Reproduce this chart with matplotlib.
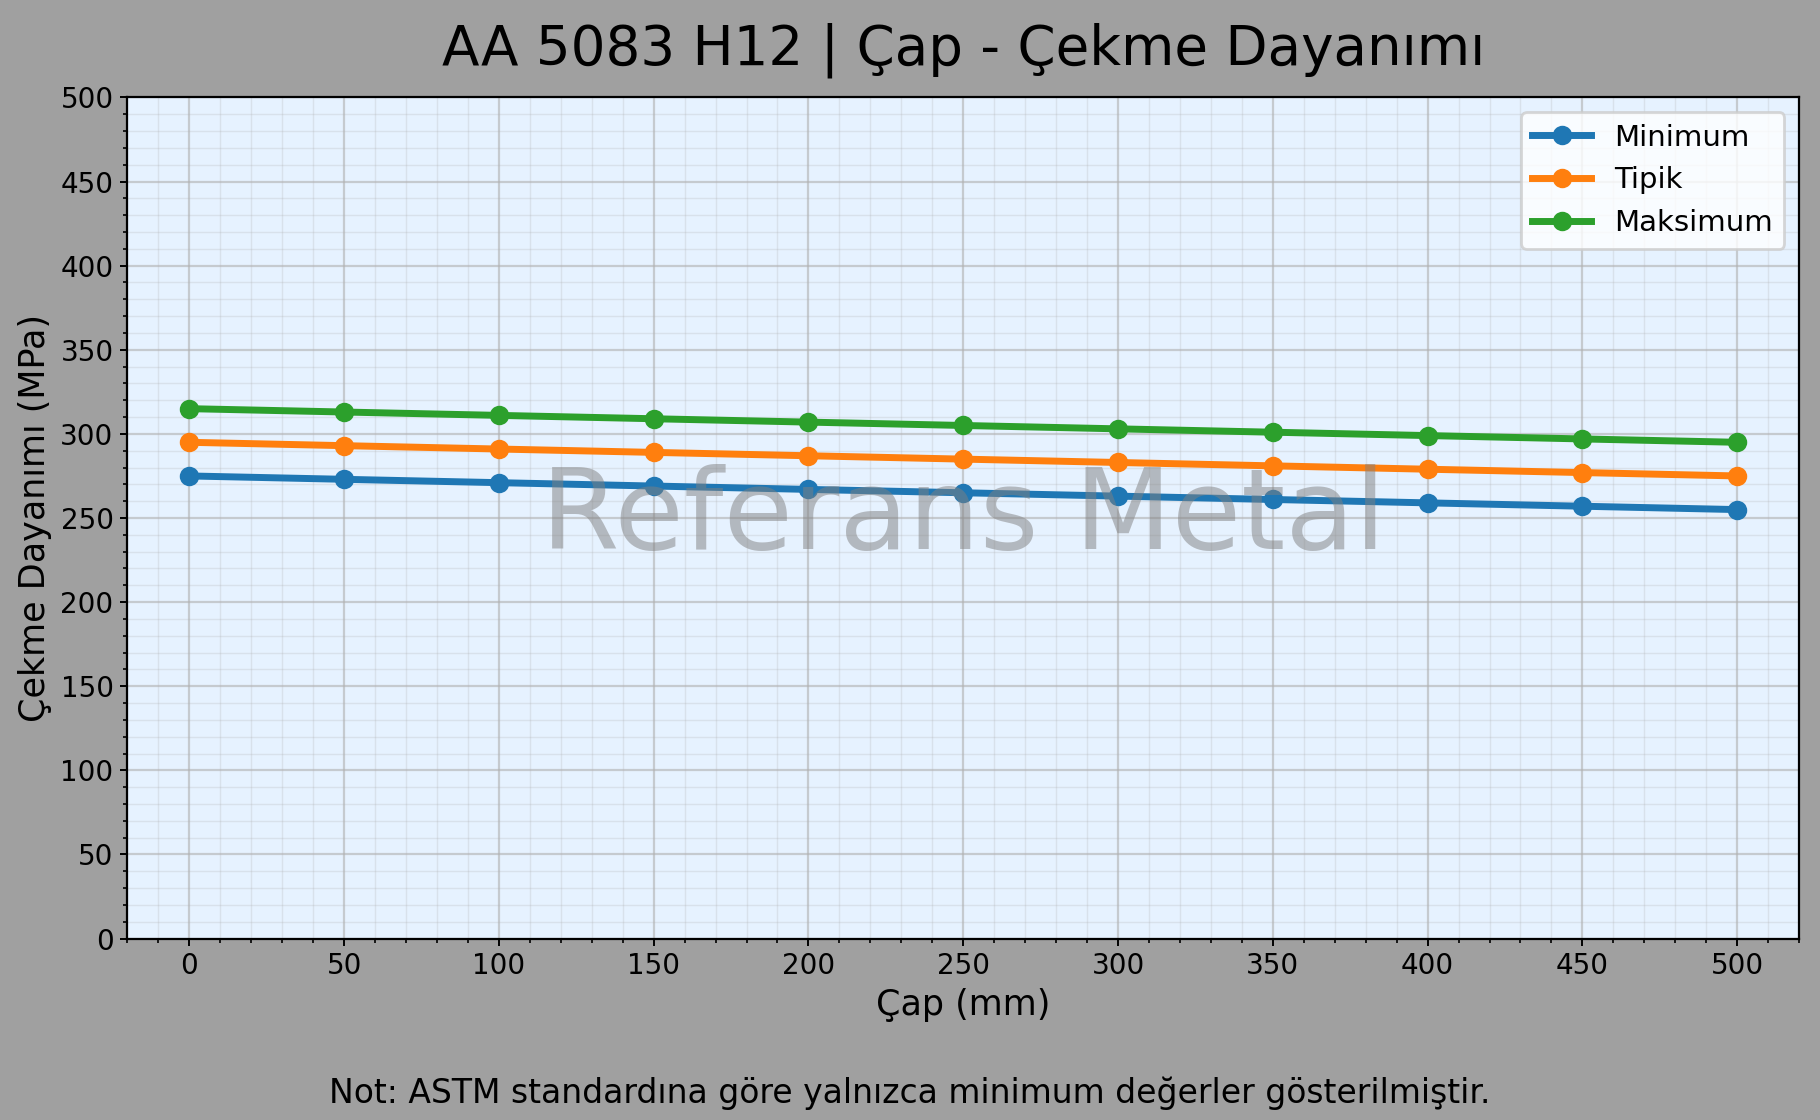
import numpy as np
import matplotlib
matplotlib.use("Agg")
import matplotlib.pyplot as plt
from matplotlib.ticker import MultipleLocator

# diameter (mm) and tensile strength values (MPa)
cap = [0, 50, 100, 150, 200, 250, 300, 350, 400, 450, 500]
minimum = [275, 273, 271, 269, 267, 265, 263, 261, 259, 257, 255]
tipik = [295, 293, 291, 289, 287, 285, 283, 281, 279, 277, 275]
maksimum = [315, 313, 311, 309, 307, 305, 303, 301, 299, 297, 295]

fig, ax = plt.subplots(figsize=(9.1, 5.6), dpi=200)
fig.patch.set_facecolor('#a0a0a0')
ax.set_facecolor('#e6f2ff')

ax.plot(cap, minimum, marker='o', lw=2.5, markersize=6, color='#1f77b4', label='Minimum')
ax.plot(cap, tipik, marker='o', lw=2.5, markersize=6, color='#ff7f0e', label='Tipik')
ax.plot(cap, maksimum, marker='o', lw=2.5, markersize=6, color='#2ca02c', label='Maksimum')

ax.set_xlim(-20, 520)
ax.set_ylim(0, 500)
ax.xaxis.set_major_locator(MultipleLocator(50))
ax.xaxis.set_minor_locator(MultipleLocator(10))
ax.yaxis.set_major_locator(MultipleLocator(50))
ax.yaxis.set_minor_locator(MultipleLocator(10))
ax.grid(which='major', color='#b0b0b0', alpha=0.6, lw=0.8)
ax.grid(which='minor', color='#b0b0b0', alpha=0.25, lw=0.5)
ax.tick_params(which='major', labelsize=10, length=2.5, pad=2.5, width=0.7)
ax.tick_params(which='minor', length=1.4, width=0.6)
for s in ax.spines.values():
    s.set_linewidth(0.8)

ax.set_xlabel('Çap (mm)', fontsize=12.6, labelpad=2.8)
ax.set_ylabel('Çekme Dayanımı (MPa)', fontsize=12.6, labelpad=2.8)
ax.set_title('AA 5083 H12 | Çap - Çekme Dayanımı', fontsize=19.7, pad=12)

ax.legend(loc='upper right', fontsize=10.5)

# watermark
ax.text(0.5, 0.5, 'Referans Metal', transform=ax.transAxes, fontsize=40.6,
        color='gray', alpha=0.5, ha='center', va='center', zorder=10)

fig.text(0.5, 0.024, 'Not: ASTM standardına göre yalnızca minimum değerler gösterilmiştir.',
         ha='center', va='center', fontsize=11.9)

fig.subplots_adjust(left=0.070, right=0.9885, top=0.913, bottom=0.162)
fig.savefig('out.png', dpi=200, facecolor=fig.get_facecolor())
